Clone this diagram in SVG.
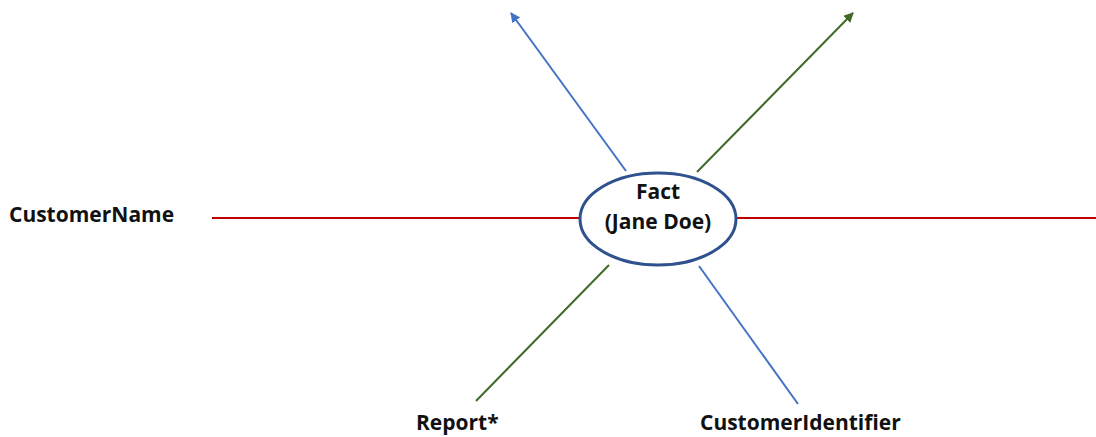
<svg xmlns="http://www.w3.org/2000/svg" width="1096" height="437" viewBox="0 0 1096 437">
<style>
text{font-family:"Open Sans","Noto Sans","Liberation Sans",sans-serif;font-weight:bold;font-size:21px;fill:#111}
.red{stroke:#C00000;stroke-width:2;fill:none}
.blue{stroke:#4472C4;stroke-width:2;fill:none}
.green{stroke:#3F6A27;stroke-width:2;fill:none}
</style>
<defs>
<marker id="ab" viewBox="0 0 10 10" refX="9" refY="5" markerWidth="5" markerHeight="5" orient="auto"><path d="M0,0L10,5L0,10z" fill="#4472C4"/></marker>
<marker id="ag" viewBox="0 0 10 10" refX="9" refY="5" markerWidth="5" markerHeight="5" orient="auto"><path d="M0,0L10,5L0,10z" fill="#3F6A27"/></marker>
</defs>
<rect width="1096" height="437" fill="#fff"/>
<g id="connectors">
<line class="red" x1="212" y1="218" x2="580" y2="218"/>
<line class="red" x1="737" y1="218" x2="1096" y2="218"/>
<line class="blue" x1="626" y1="171" x2="511" y2="13" marker-end="url(#ab)"/>
<line class="green" x1="697" y1="172" x2="853" y2="13" marker-end="url(#ag)"/>
<line class="green" x1="609" y1="265" x2="476" y2="401"/>
<line class="blue" x1="699" y1="266" x2="798" y2="404"/>
</g>
<g id="fact">
<ellipse cx="658" cy="219" rx="78" ry="46" fill="#fff" stroke="#2F528F" stroke-width="3"/>
<text x="658" y="199" text-anchor="middle">Fact</text>
<text x="658" y="229" text-anchor="middle">(Jane Doe)</text>
</g>
<g id="customerName"><text x="9" y="222">CustomerName</text></g>
<g id="report"><text x="416" y="430">Report*</text></g>
<g id="customerIdentifier"><text x="700" y="430">CustomerIdentifier</text></g>
</svg>
